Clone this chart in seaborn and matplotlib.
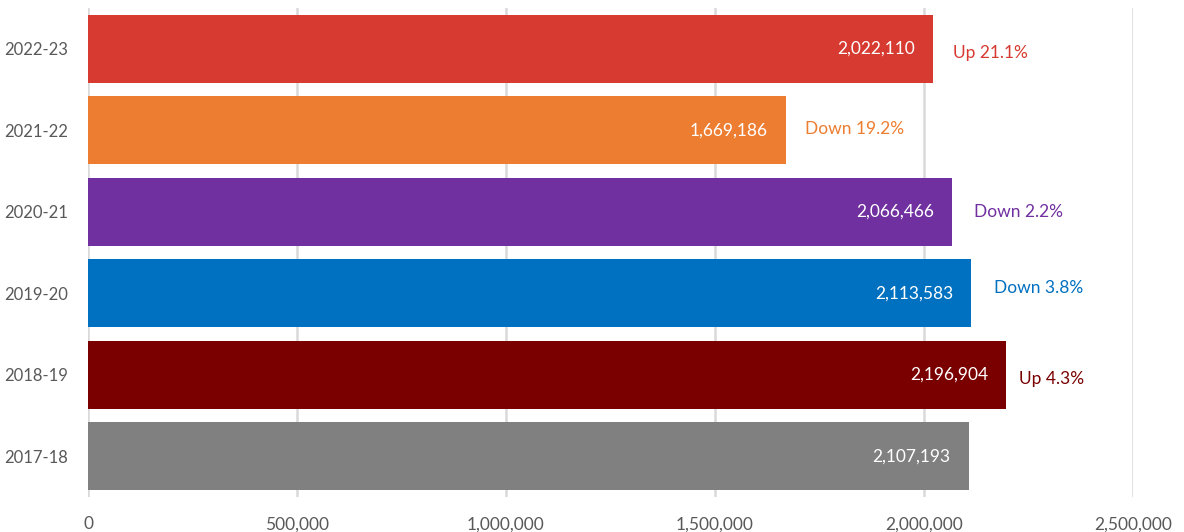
import matplotlib
matplotlib.use("Agg")
import matplotlib.pyplot as plt
import matplotlib.ticker as mticker
from matplotlib.transforms import offset_copy
import seaborn as sns
import pandas as pd

# Annual totals by financial year, newest first
years = ["2022-23", "2021-22", "2020-21", "2019-20", "2018-19", "2017-18"]
totals = [2022110, 1669186, 2066466, 2113583, 2196904, 2107193]
changes = ["Up 21.1%", "Down 19.2%", "Down 2.2%", "Down 3.8%", "Up 4.3%", ""]
bar_colors = ["#D63A31", "#ED7D31", "#7030A0", "#0070C0", "#7A0000", "#808080"]

df = pd.DataFrame({"year": years, "total": totals})

sns.set_theme(style="white")
plt.rcParams["font.family"] = ["Lato", "DejaVu Sans"]

fig = plt.figure(figsize=(11.84, 5.32), dpi=100)
ax = fig.add_axes([88 / 1184, 1 - 497 / 532, (1133 - 88) / 1184, (497 - 8) / 532])

sns.barplot(data=df, x="total", y="year", hue="year", palette=bar_colors,
            order=years, legend=False, width=0.834, saturation=1,
            linewidth=0, ax=ax)

ax.set_xlim(0, 2500000)
ax.set_ylim(len(years) - 0.5, -0.5)
ax.xaxis.set_major_locator(mticker.MultipleLocator(500000))
ax.xaxis.set_major_formatter(mticker.FuncFormatter(lambda v, p: f"{int(v):,}"))
ax.grid(axis="x", color="#D9D9D9", linewidth=1.8, zorder=0)
ax.set_axisbelow(True)
for s in ax.spines.values():
    s.set_visible(False)
ax.set_xlabel("")
ax.set_ylabel("")
ax.tick_params(axis="both", length=0, labelsize=12.5, labelcolor="#595959")
ax.tick_params(axis="y", labelsize=12)
ax.tick_params(axis="x", pad=14)
ax.tick_params(axis="y", pad=14)

# Per-label nudges (points) for the change annotations
change_dx = [14, 14, 16, 16, 9, 0]
change_dy = [-3, 1, 0, 4, -3, 0]

for i, (val, txt, col) in enumerate(zip(totals, changes, bar_colors)):
    inside = offset_copy(ax.transData, fig=fig, x=-13, y=0, units="points")
    ax.text(val, i, f"{val:,}", transform=inside, ha="right", va="center",
            color="white", fontsize=12.5)
    if txt:
        outside = offset_copy(ax.transData, fig=fig, x=change_dx[i],
                              y=change_dy[i], units="points")
        ax.text(val, i, txt, transform=outside, ha="left", va="center",
                color=col, fontsize=12.5)

fig.savefig("out.png", dpi=100)
